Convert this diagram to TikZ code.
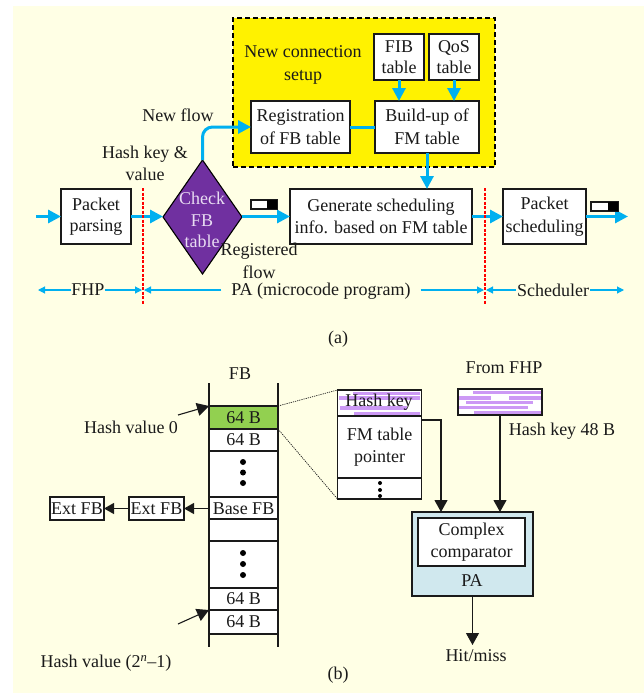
\documentclass[tikz,border=0pt]{standalone}
\usepackage{fontspec}
\setmainfont{Liberation Serif}
\usetikzlibrary{arrows.meta,shapes.geometric}
\definecolor{cream}{HTML}{FFFFE5}
\definecolor{skyc}{HTML}{00B0F0}
\definecolor{purp}{HTML}{7030A0}
\definecolor{lav}{HTML}{E8DCF2}
\definecolor{bar}{HTML}{CC99F5}
\definecolor{greenc}{HTML}{92D050}
\definecolor{pabg}{HTML}{D0E8EE}
\definecolor{ink}{HTML}{1A1A1A}
\tikzset{
  every node/.style={font=\fontsize{18}{22.5}\selectfont,text=ink,align=center,inner sep=0pt,outer sep=0pt},
  boxn/.style={draw=ink,line width=1.1pt,fill=white},
  cell/.style={draw=ink,line width=1.1pt,fill=white,minimum width=69pt},
  flow/.style={draw=skyc,line width=3pt,-{Triangle[length=13pt,width=13pt]}},
  flowplain/.style={draw=skyc,line width=3pt},
  rangearrow/.style={draw=skyc,line width=1.1pt,-{Triangle[length=7pt,width=7pt]}},
  blk/.style={draw=ink,line width=1.1pt,-{Triangle[length=12pt,width=13pt]}},
  blksmall/.style={draw=ink,line width=1.1pt,-{Triangle[length=10pt,width=11pt]}},
  reddash/.style={draw=red,line width=1.6pt,dash pattern=on 3pt off 1.5pt},
  dotl/.style={draw=ink,line width=.7pt,dash pattern=on 1.2pt off 1pt},
  vdots/.style={fill=black}
}
\begin{document}
\begin{tikzpicture}[x=1pt,y=-1pt]
\useasboundingbox (0,0) rectangle (644,693);
\fill[white] (0,0) rectangle (644,693);
\fill[cream] (13,6) rectangle (644,693);

% --- (a) ---
\node[draw=black,line width=1.4pt,dash pattern=on 5pt off 3pt,fill=yellow,minimum width=262pt,minimum height=149pt] (setup) at (364,92.5) {};
\node (setuplabel) at (303,65) {New connection\\setup};
\node[boxn,minimum width=50pt,minimum height=46pt,font=\fontsize{18}{21}\selectfont] (fib) at (399,57) {FIB\\table};
\node[boxn,minimum width=50pt,minimum height=46pt,font=\fontsize{18}{21}\selectfont] (qos) at (454,57) {QoS\\table};
\node[boxn,minimum width=104pt,minimum height=52pt] (buildup) at (427,127) {Build-up of\\FM table};
\node[boxn,minimum width=99pt,minimum height=52pt] (reg) at (300.5,127) {Registration\\of FB table};
\node[boxn,minimum width=70pt,minimum height=55pt] (parse) at (96,216.5) {\raisebox{-1pt}{Packet}\\parsing};
\node[draw=black,line width=1.1pt,fill=purp,diamond,minimum width=79pt,minimum height=114pt] (check) at (202.5,217) {};
\node[text=lav,font=\fontsize{18}{21.5}\selectfont] (checktext) at (202,220) {Check\\FB\\table};
\node[boxn,minimum width=182pt,minimum height=55pt] (gen) at (381,216.5) {Generate scheduling\\info. based on FM table};
\node[boxn,minimum width=83pt,minimum height=55pt] (sched) at (544.5,216.5) {Packet\\scheduling};

\coordinate (inA) at (36,216.5);
\coordinate (outA) at (628,216.5);
\coordinate (checkup) at (202.5,127);
\draw[flow] (inA) -- (parse.west);
\draw[flow] (parse.east) -- (parse.east -| check.west);
\draw[flow] (check.east |- gen.west) -- (gen.west);
\draw[flow] (gen.east) -- (sched.west);
\draw[flow] (sched.east) -- (outA);
\draw[flow,rounded corners=10pt] (check.north) -- (checkup) -- (reg.west);
\draw[flowplain] (reg.east) -- (buildup.west);
\draw[flow] (fib.south) -- (fib.south |- buildup.north);
\draw[flow] (qos.south) -- (qos.south |- buildup.north);
\draw[flow] (buildup.south) -- (buildup.south |- gen.north);

\coordinate (redAt) at (143,188);
\coordinate (redAb) at (143,304);
\coordinate (redBt) at (485,188);
\coordinate (redBb) at (485,304);
\draw[reddash] (redAt) -- (redAb);
\draw[reddash] (redBt) -- (redBb);

\draw[fill=white,draw=ink,line width=1.1pt] (251,200) rectangle (277,209);
\fill[black] (267,200) rectangle (277,209);
\draw[fill=white,draw=ink,line width=1.1pt] (591,202) rectangle (618,211);
\fill[black] (608,202) rectangle (618,211);

\node (hashlabel) at (145,163.5) {Hash key \&\\value};
\node (newflow) at (178,115) {New flow};
\node (regflow) at (259,261) {Registered\\flow};

\node (fhp) at (88,290) {FHP};
\node[inner xsep=10pt] (pa) at (321,291) {PA (microcode program)};
\node[inner xsep=1pt] (schedl) at (553,290) {Scheduler};
\coordinate (fhpL) at (38,290);
\coordinate (fhpR) at (142,290);
\coordinate (paL) at (144,290);
\coordinate (paR) at (484,290);
\coordinate (scL) at (486,290);
\coordinate (scR) at (624,290);
\draw[rangearrow] (fhp.west |- fhpL) -- (fhpL);
\draw[rangearrow] (fhp.east |- fhpR) -- (fhpR);
\draw[rangearrow] (pa.west |- paL) -- (paL);
\draw[rangearrow] (pa.east |- paR) -- (paR);
\draw[rangearrow] (schedl.west |- scL) -- (scL);
\draw[rangearrow] (schedl.east |- scR) -- (scR);
\node (capa) at (338,339) {(a)};

% --- (b) ---
\node (fblabel) at (240,374) {FB};
\coordinate (fbtl) at (209,383);
\coordinate (fbbl) at (209,647);
\coordinate (fbtr) at (278,383);
\coordinate (fbbr) at (278,647);
\draw[draw=ink,line width=1.1pt] (fbtl) -- (fbbl);
\draw[draw=ink,line width=1.1pt] (fbtr) -- (fbbr);
\node[cell,fill=greenc,minimum height=23pt] (c1) at (243.5,417.5) {64 B};
\node[cell,minimum height=22pt] (c2) at (243.5,440) {64 B};
\node[cell,minimum height=46pt] (c3) at (243.5,474) {};
\node[cell,minimum height=22pt] (base) at (243.5,508.5) {Base FB};
\node[cell,minimum height=22pt] (c5) at (243.5,530) {};
\node[cell,minimum height=47pt] (c6) at (243.5,564.5) {};
\node[cell,minimum height=22pt] (c7) at (243.5,599) {64 B};
\node[cell,minimum height=24pt] (c8) at (243.5,622) {64 B};
\foreach \yy in {462,472.5,483,553,564,575} \fill[vdots] (243,\yy) circle (3pt);

\node[boxn,minimum width=55pt,minimum height=23pt] (ext1) at (156.5,508.5) {Ext FB};
\node[boxn,minimum width=54pt,minimum height=23pt] (ext2) at (77,508.5) {Ext FB};
\draw[blksmall] (base.west) -- (ext1.east);
\draw[blksmall] (ext1.west) -- (ext2.east);

\coordinate (hv0) at (178,415);
\coordinate (hvn) at (178,624);
\draw[blk] (hv0) -- (c1.north west);
\draw[blk] (hvn) -- (c8.north west);
\node (hv0label) at (131,427) {Hash value 0};
\node (hvnlabel) at (106,663) {Hash value (2\textsuperscript{\itshape n}–1)};

% table entry
\node[boxn,minimum width=84pt,minimum height=26pt] (hashbox) at (379.5,403) {};
\fill[bar] (353,392) rectangle (420,394.5);
\fill[bar] (339,396) rectangle (420,400);
\fill[bar] (340,406) rectangle (407,409.5);
\fill[bar] (354,412) rectangle (420,415);
\node (hashtext) at (379,402) {Hash key};
\node[boxn,minimum width=84pt,minimum height=62pt] (fmbox) at (379.5,447) {FM table\\pointer};
\node[boxn,minimum width=84pt,minimum height=21pt] (dotbox) at (379.5,488.5) {};
\foreach \yy in {483,490,496} \fill[vdots] (380,\yy) circle (2pt);
\draw[dotl] (c1.north east) -- (hashbox.north west);
\draw[dotl] (c2.north east) -- (dotbox.south west);

% from FHP
\node (fromfhp) at (504,368) {From FHP};
\node[boxn,minimum width=84pt,minimum height=26pt] (fhpkey) at (500,402) {};
\fill[bar] (473,391) rectangle (540.5,394);
\fill[bar] (459,395.5) rectangle (490.5,399.5);
\fill[bar] (509,395.5) rectangle (540.5,399.5);
\fill[bar] (466,401) rectangle (533,404);
\fill[bar] (459,406) rectangle (527.5,409);
\fill[bar] (474,411) rectangle (540.5,414);
\node (hk48) at (562,431) {Hash key 48 B};

% PA
\node[draw=ink,line width=1.2pt,fill=pabg,minimum width=121pt,minimum height=84pt] (pabox) at (472.5,554) {};
\node[boxn,minimum width=107pt,minimum height=48pt] (comp) at (471.5,542) {\raisebox{-1pt}{Complex}\\comparator};
\node (palabel) at (472,581) {PA};
\coordinate (corner) at (441,420);
\draw[blk] (fmbox.north east |- corner) -- (corner) -- (corner |- pabox.north);
\draw[blk] (fhpkey.south) -- (fhpkey.south |- pabox.north);
\coordinate (hitarrow) at (472.5,645);
\draw[blk] (pabox.south) -- (hitarrow);
\node (hitmiss) at (476,656) {Hit/miss};
\node (capb) at (338,675) {(b)};
\end{tikzpicture}
\end{document}
